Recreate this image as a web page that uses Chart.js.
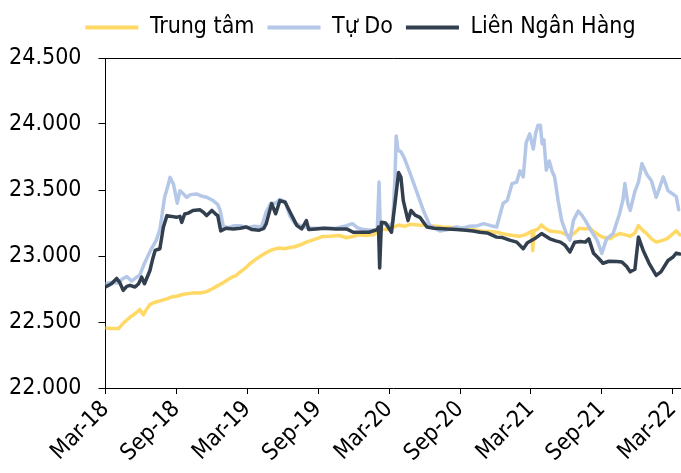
<!DOCTYPE html>
<html><head><meta charset="utf-8">
<script src="https://cdn.jsdelivr.net/npm/chart.js@4"></script>
<style>html,body{margin:0;padding:0;background:#fff}#wrap{width:681px;height:473px;position:relative}</style>
</head><body><div id="wrap"><canvas id="c" width="681" height="473"></canvas></div>
<script>
// Tick positions are months counted from Mar-2018
const xTickMonths = [0, 6, 12, 18, 24, 30, 36, 42, 48];
const xTickLabels = ['Mar-18', 'Sep-18', 'Mar-19', 'Sep-19', 'Mar-20', 'Sep-20', 'Mar-21', 'Sep-21', 'Mar-22'];
const yTickValues = [22000, 22500, 23000, 23500, 24000, 24500];
const seriesNames = ['Trung tâm', 'Tự Do', 'Liên Ngân Hàng'];

const trungTamMonths = [0,0.5,1.1,1.5,1.8,2.2,2.6,2.9,3.2,3.5,3.8,4.2,4.6,5.2,5.6,6.0,6.6,7.0,7.5,8.0,8.56,9.0,9.4,9.8,10.25,10.7,11.0,11.4,11.8,12.2,12.8,13.3,13.8,14.2,14.7,15.1,15.6,16.0,16.5,17.0,17.5,18.0,18.4,19.0,19.8,20.4,21.0,21.5,22.0,22.7,23.2,23.8,24.3,24.8,25.3,25.8,26.5,27.5,28.5,29.5,30.3,31.0,31.8,32.5,33.1,33.8,34.5,35.0,35.5,35.9,36.1,36.15,36.25,36.6,36.9,37.2,37.6,38.0,38.5,38.9,39.3,39.7,40.1,40.6,41.0,41.4,41.8,42.2,42.7,43.1,43.5,44.0,44.4,44.8,45.1,45.4,45.8,46.2,46.6,47.0,47.5,47.9,48.3,48.6];
const trungTamValues = [22455,22450,22450,22490,22515,22545,22570,22595,22555,22600,22635,22650,22660,22675,22690,22695,22710,22715,22722,22720,22730,22750,22770,22790,22815,22840,22850,22880,22905,22940,22980,23010,23035,23050,23060,23055,23065,23070,23085,23105,23120,23135,23148,23150,23155,23138,23150,23160,23155,23160,23205,23200,23215,23235,23225,23240,23235,23230,23220,23215,23210,23200,23190,23185,23180,23165,23155,23150,23160,23180,23190,23040,23190,23205,23235,23210,23190,23185,23180,23165,23150,23175,23210,23205,23210,23180,23155,23140,23130,23155,23170,23160,23150,23175,23230,23200,23170,23130,23105,23115,23130,23160,23190,23160];

const tuDoMonths = [0,0.5,1.0,1.5,1.8,2.2,2.5,2.9,3.3,3.8,4.3,4.6,4.75,5.0,5.25,5.46,5.6,5.74,5.9,6.07,6.3,6.6,6.87,7.2,7.7,8.1,8.56,9.1,9.5,9.7,9.97,10.4,10.9,11.4,12.0,12.6,13.2,13.6,14.0,14.4,14.76,15.2,15.6,16.0,16.5,17.0,17.5,18.5,19.5,20.4,20.9,21.3,21.8,22.5,23.0,23.15,23.25,23.5,24.0,24.3,24.5,24.6,24.75,25.0,25.3,25.8,26.3,26.9,27.45,28.3,29.0,29.7,30.2,30.8,31.5,32.0,32.6,33.1,33.65,34.0,34.4,34.8,35.07,35.35,35.6,35.9,36.2,36.4,36.6,36.8,36.95,37.1,37.3,37.55,37.8,38.0,38.3,38.6,39.0,39.3,39.6,40.0,40.3,40.6,41.1,41.6,42.0,42.4,42.96,43.5,43.8,43.95,44.2,44.4,44.8,45.1,45.4,45.8,46.2,46.6,46.9,47.2,47.6,48.0,48.3,48.5];
const tuDoValues = [22790,22800,22795,22830,22845,22810,22830,22855,22945,23040,23120,23200,23290,23445,23520,23596,23570,23548,23480,23400,23495,23470,23445,23465,23470,23455,23445,23420,23390,23345,23225,23215,23230,23230,23215,23225,23220,23335,23400,23400,23430,23410,23305,23250,23230,23215,23210,23210,23210,23230,23245,23215,23200,23195,23200,23560,23220,23245,23230,23250,23600,23910,23800,23790,23740,23620,23495,23345,23230,23190,23200,23220,23210,23225,23230,23245,23230,23220,23400,23420,23548,23560,23645,23600,23860,23925,23810,23930,23990,23990,23850,23880,23650,23720,23640,23600,23420,23270,23170,23120,23270,23340,23310,23270,23190,23120,23020,23130,23170,23320,23430,23550,23400,23345,23490,23560,23700,23620,23570,23445,23520,23600,23495,23470,23450,23350];

const lienNganHangMonths = [0,0.5,0.95,1.2,1.5,1.8,2.07,2.5,2.8,3.06,3.3,3.76,4.0,4.2,4.6,4.9,5.2,5.6,6.0,6.3,6.45,6.7,7.0,7.4,8.0,8.3,8.56,9.0,9.3,9.5,9.75,10.2,10.8,11.4,11.9,12.4,13.0,13.4,13.6,14.06,14.4,14.76,15.2,15.6,16.2,16.6,17.0,17.2,17.8,18.5,19.5,20.4,20.96,21.5,22.3,23.0,23.1,23.2,23.35,23.7,24.2,24.5,24.8,25.0,25.2,25.6,25.85,26.2,26.6,27.2,27.8,28.9,29.7,30.5,31.1,31.7,32.3,33.1,33.6,34.2,34.8,35.35,35.7,36.3,36.9,37.6,38.1,38.5,38.9,39.3,39.7,40.2,40.6,40.9,41.3,41.7,42.1,42.6,43.25,43.7,44.1,44.4,44.8,45.1,45.5,46.0,46.6,47.0,47.6,48.0,48.3,48.6];
const lienNganHangValues = [22765,22790,22830,22800,22740,22770,22778,22765,22790,22840,22790,22890,22980,23042,23055,23220,23306,23300,23293,23300,23255,23318,23325,23345,23350,23330,23306,23345,23320,23306,23190,23210,23205,23210,23220,23200,23195,23210,23245,23397,23320,23420,23407,23335,23230,23205,23268,23200,23205,23210,23205,23205,23180,23180,23180,23200,23220,22910,23255,23250,23180,23400,23633,23596,23420,23268,23345,23310,23293,23220,23210,23205,23200,23195,23190,23180,23175,23143,23140,23120,23105,23055,23100,23130,23170,23130,23115,23105,23080,23030,23105,23110,23105,23130,23020,22985,22945,22960,22958,22955,22920,22880,22900,23143,23042,22945,22853,22880,22966,22990,23022,23015];

const seriesColors = ['#FFD966', '#B4C7E7', '#323F4F'];

function pts(xs, ys) { return xs.map((x, i) => ({ x: x, y: ys[i] })); }
function fmt(v) { return String(v).replace(/\B(?=(\d{3})+(?!\d))/g, '.'); }

const FONT = "'DejaVu Sans Condensed', 'DejaVu Sans', sans-serif";
Chart.defaults.font.family = FONT;
Chart.defaults.font.size = 23;
Chart.defaults.color = '#000';

const topBorder = {
  id: 'topBorder',
  afterLayout(chart) {
    // place the legend block as in the reference
    if (chart.legend) {
      chart.legend.left += 20; chart.legend.right += 20;
      chart.legend.top -= 9; chart.legend.bottom -= 9;
    }
  },
  afterDraw(chart) {
    const { ctx, chartArea } = chart;
    ctx.save();
    ctx.strokeStyle = '#000';
    ctx.lineWidth = 1;
    ctx.beginPath();
    ctx.moveTo(chartArea.left, chartArea.top + 0.5);
    ctx.lineTo(chartArea.right, chartArea.top + 0.5);
    ctx.stroke();
    ctx.restore();
  }
};

const datasets = [
  { label: seriesNames[0], data: pts(trungTamMonths, trungTamValues), borderColor: seriesColors[0], backgroundColor: seriesColors[0], order: 2 },
  { label: seriesNames[1], data: pts(tuDoMonths, tuDoValues), borderColor: seriesColors[1], backgroundColor: seriesColors[1], order: 1 },
  { label: seriesNames[2], data: pts(lienNganHangMonths, lienNganHangValues), borderColor: seriesColors[2], backgroundColor: seriesColors[2], order: 0 }
].map(d => Object.assign(d, { borderWidth: 3.5, pointRadius: 0, tension: 0, borderJoinStyle: 'round', borderCapStyle: 'round', fill: false }));

new Chart(document.getElementById('c'), {
  type: 'line',
  data: { datasets },
  plugins: [topBorder],
  options: {
    responsive: false,
    animation: false,
    devicePixelRatio: 1,
    layout: { padding: { left: 0, right: 0, top: 12, bottom: 0 } },
    plugins: {
      tooltip: { enabled: false },
      legend: {
        position: 'top',
        labels: {
          boxWidth: 53,
          boxHeight: 4,
          padding: 13,
          font: { size: 23, family: FONT },
          sort(a, b) { return a.datasetIndex - b.datasetIndex; },
          generateLabels(chart) {
            const items = Chart.defaults.plugins.legend.labels.generateLabels(chart);
            return items.map(it => Object.assign(it, { lineWidth: 0, fillStyle: it.strokeStyle }));
          }
        }
      }
    },
    scales: {
      x: {
        type: 'linear',
        min: 0,
        max: 48.7,
        afterBuildTicks(scale) { scale.ticks = xTickMonths.map(v => ({ value: v })); },
        afterFit(scale) { scale.height = 85; scale.paddingLeft = 0; scale.paddingRight = 0; },
        ticks: {
          autoSkip: false,
          minRotation: 45,
          maxRotation: 45,
          padding: 2,
          font: { size: 23, family: FONT },
          callback(v, i) { return xTickLabels[i]; }
        },
        grid: { display: true, drawOnChartArea: false, drawTicks: true, tickLength: 6, color: '#000' },
        border: { display: true, color: '#000', width: 1 }
      },
      y: {
        min: 22000,
        max: 24500,
        afterBuildTicks(scale) { scale.ticks = yTickValues.map(v => ({ value: v })); },
        afterFit(scale) { scale.width = 105.5; },
        ticks: {
          padding: 17,
          font: { size: 23, family: FONT },
          callback(v) { return fmt(v); }
        },
        grid: { display: true, drawOnChartArea: false, drawTicks: true, tickLength: 7, color: '#000' },
        border: { display: true, color: '#000', width: 1 }
      }
    }
  }
});
</script>
</body></html>
